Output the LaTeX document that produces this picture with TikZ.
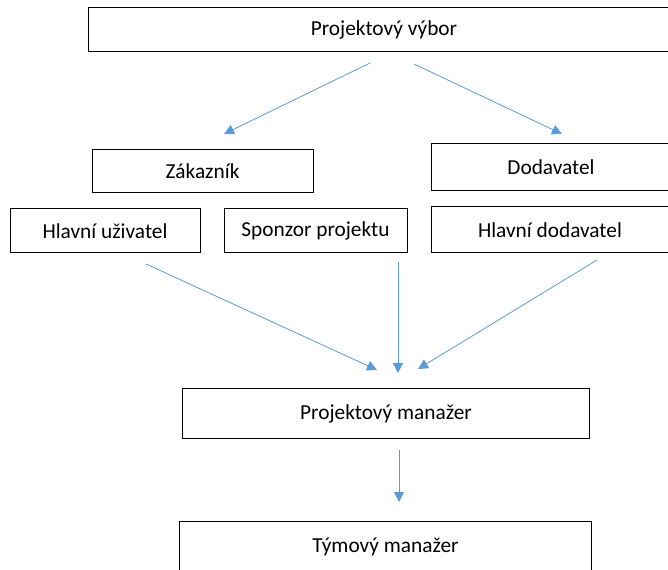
\documentclass[tikz,border=0pt]{standalone}
\usepackage{fontspec}
\setmainfont{Carlito}
\usetikzlibrary{arrows.meta}

\definecolor{arrowblue}{RGB}{91,155,213}

\tikzset{
  box/.style={draw=black, line width=0.75pt, fill=white, inner sep=0pt,
    font=\fontsize{16}{19}\selectfont},
  flow/.style={draw=arrowblue, line width=0.6pt,
    -{Triangle[width=7.5pt,length=7.5pt]}}
}

\begin{document}
\begin{tikzpicture}[x=0.75pt,y=0.75pt,yscale=-1,xscale=1]
\useasboundingbox (0,0) rectangle (668,570);
\clip (0,0) rectangle (668,570);

% Boxes (sizes in px, 1px = 0.75pt)
\node[box, minimum width=0.75*591, minimum height=0.75*44] (vybor) at (384,29.5) {Projektový výbor};
\node[box, minimum width=0.75*221, minimum height=0.75*43] (zakaznik) at (202.5,171.5) {Zákazník};
\node[box, minimum width=0.75*240, minimum height=0.75*47] (dodavatel) at (551,167.5) {Dodavatel};
\node[box, minimum width=0.75*190, minimum height=0.75*44] (uzivatel) at (105,231) {Hlavní uživatel};
\node[box, minimum width=0.75*183, minimum height=0.75*44] (sponzor) at (315.5,231) {Sponzor projektu};
\node[box, minimum width=0.75*238, minimum height=0.75*46] (hldodavatel) at (550,230) {Hlavní dodavatel};
\node[box, minimum width=0.75*407, minimum height=0.75*49.5] (pm) at (386,413.7) {Projektový manažer};
\node[box, minimum width=0.75*412, minimum height=0.75*49.5] (tm) at (385.5,546.5) {Týmový manažer};

% Arrow ends
\coordinate (vy-l) at (370,63);
\coordinate (vy-r) at (414,64);
\coordinate (za-in) at (224,134);
\coordinate (do-in) at (562,134);
\coordinate (uz-out) at (146,264);
\coordinate (sp-out) at (398,262);
\coordinate (hd-out) at (597,260);
\coordinate (pm-inl) at (377,370);
\coordinate (pm-inm) at (398,373);
\coordinate (pm-inr) at (418,369);
\coordinate (pm-out) at (399,450);
\coordinate (tm-in) at (399,502);

% Arrows
\draw[flow] (vy-l) -- (za-in);
\draw[flow] (vy-r) -- (do-in);
\draw[flow] (uz-out) -- (pm-inl);
\draw[flow] (sp-out) -- (pm-inm);
\draw[flow] (hd-out) -- (pm-inr);
\draw[flow] (pm-out) -- (tm-in);

\end{tikzpicture}
\end{document}
